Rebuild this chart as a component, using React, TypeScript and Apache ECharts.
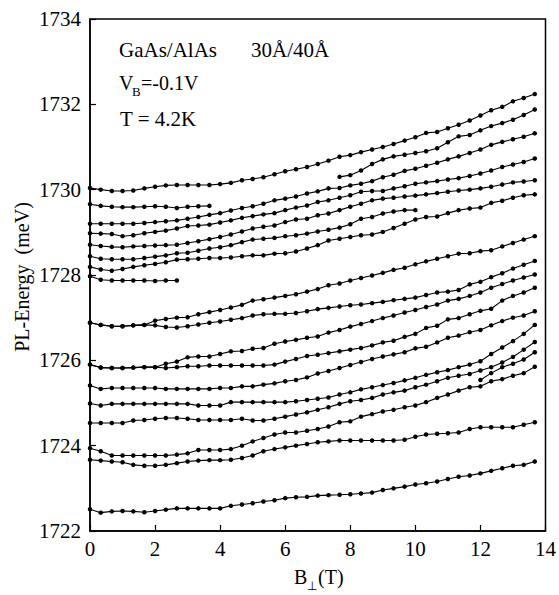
import React, { useEffect, useRef } from "react";
import * as echarts from "echarts";

// Magnetic field B⊥ (T), sample positions
const B = [0, 0.33, 0.67, 1, 1.33, 1.67, 2, 2.33, 2.67, 3, 3.33, 3.67, 4, 4.33, 4.67, 5, 5.33, 5.67, 6, 6.33, 6.67, 7, 7.33, 7.67, 8, 8.33, 8.67, 9, 9.33, 9.67, 10, 10.33, 10.67, 11, 11.33, 11.67, 12, 12.33, 12.67, 13, 13.33, 13.67];

// PL energies (meV); each line starts at index `start` of B
const line01 = [1730.04, 1730.00, 1729.97, 1729.97, 1729.98, 1730.03, 1730.07, 1730.10, 1730.11, 1730.11, 1730.11, 1730.11, 1730.13, 1730.16, 1730.22, 1730.25, 1730.29, 1730.36, 1730.43, 1730.48, 1730.53, 1730.60, 1730.68, 1730.77, 1730.81, 1730.88, 1730.94, 1731.00, 1731.07, 1731.15, 1731.23, 1731.33, 1731.35, 1731.44, 1731.52, 1731.62, 1731.74, 1731.86, 1731.94, 1732.07, 1732.15, 1732.24];
const line02 = [1729.66, 1729.62, 1729.60, 1729.59, 1729.59, 1729.60, 1729.61, 1729.60, 1729.57, 1729.60, 1729.61, 1729.62];
const line03 = [1730.30, 1730.34, 1730.45, 1730.60, 1730.71, 1730.78, 1730.82, 1730.86, 1730.90, 1730.97, 1731.11, 1731.25, 1731.28, 1731.39, 1731.49, 1731.56, 1731.64, 1731.75, 1731.88];
const line04 = [1729.20, 1729.20, 1729.20, 1729.20, 1729.20, 1729.22, 1729.24, 1729.26, 1729.28, 1729.32, 1729.36, 1729.41, 1729.45, 1729.51, 1729.57, 1729.61, 1729.67, 1729.75, 1729.79, 1729.84, 1729.91, 1729.96, 1730.03, 1730.04, 1730.10, 1730.14, 1730.20, 1730.29, 1730.35, 1730.44, 1730.49, 1730.56, 1730.63, 1730.71, 1730.78, 1730.86, 1730.94, 1731.05, 1731.12, 1731.18, 1731.24, 1731.32];
const line05 = [1728.98, 1728.97, 1728.96, 1728.91, 1728.93, 1728.98, 1729.01, 1729.04, 1729.09, 1729.15, 1729.16, 1729.18, 1729.23, 1729.28, 1729.34, 1729.38, 1729.42, 1729.45, 1729.52, 1729.58, 1729.63, 1729.71, 1729.75, 1729.81, 1729.87, 1729.95, 1729.97, 1729.97, 1730.03, 1730.08, 1730.14, 1730.17, 1730.20, 1730.24, 1730.27, 1730.32, 1730.38, 1730.45, 1730.53, 1730.59, 1730.65, 1730.73];
const line06 = [1728.71, 1728.68, 1728.66, 1728.65, 1728.67, 1728.68, 1728.69, 1728.70, 1728.71, 1728.75, 1728.79, 1728.84, 1728.89, 1728.95, 1729.02, 1729.09, 1729.13, 1729.16, 1729.24, 1729.30, 1729.32, 1729.40, 1729.44, 1729.52, 1729.60, 1729.67, 1729.75, 1729.79, 1729.81, 1729.84, 1729.86, 1729.89, 1729.92, 1729.95, 1729.98, 1730.00, 1730.03, 1730.07, 1730.12, 1730.17, 1730.19, 1730.22];
const line07 = [1728.44, 1728.38, 1728.37, 1728.37, 1728.37, 1728.40, 1728.43, 1728.46, 1728.51, 1728.52, 1728.57, 1728.62, 1728.65, 1728.70, 1728.77, 1728.83, 1728.85, 1728.87, 1728.91, 1728.93, 1728.97, 1729.02, 1729.06, 1729.11, 1729.19, 1729.32, 1729.36, 1729.44, 1729.49, 1729.52, 1729.52];
const line08 = [1728.19, 1728.13, 1728.10, 1728.14, 1728.19, 1728.23, 1728.26, 1728.30, 1728.36, 1728.37, 1728.38, 1728.40, 1728.40, 1728.41, 1728.44, 1728.46, 1728.46, 1728.50, 1728.51, 1728.55, 1728.62, 1728.70, 1728.81, 1728.85, 1728.89, 1728.93, 1728.95, 1729.01, 1729.10, 1729.20, 1729.30, 1729.36, 1729.37, 1729.45, 1729.52, 1729.56, 1729.58, 1729.69, 1729.74, 1729.81, 1729.87, 1729.89];
const line09 = [1727.97, 1727.89, 1727.87, 1727.87, 1727.87, 1727.87, 1727.86, 1727.87, 1727.87];
const line10 = [1726.88, 1726.83, 1726.80, 1726.80, 1726.82, 1726.83, 1726.93, 1726.97, 1727.00, 1727.01, 1727.08, 1727.13, 1727.18, 1727.24, 1727.30, 1727.40, 1727.43, 1727.47, 1727.51, 1727.55, 1727.61, 1727.67, 1727.76, 1727.80, 1727.87, 1727.93, 1727.99, 1728.05, 1728.12, 1728.17, 1728.25, 1728.32, 1728.38, 1728.44, 1728.50, 1728.51, 1728.56, 1728.58, 1728.67, 1728.75, 1728.83, 1728.91];
const line11 = [1726.88, 1726.83, 1726.80, 1726.80, 1726.82, 1726.83, 1726.82, 1726.78, 1726.77, 1726.80, 1726.84, 1726.88, 1726.91, 1726.95, 1726.99, 1727.05, 1727.08, 1727.09, 1727.09, 1727.11, 1727.15, 1727.20, 1727.23, 1727.26, 1727.29, 1727.31, 1727.34, 1727.37, 1727.41, 1727.44, 1727.47, 1727.53, 1727.59, 1727.61, 1727.65, 1727.78, 1727.84, 1727.95, 1728.04, 1728.15, 1728.24, 1728.33];
const line12 = [1725.90, 1725.83, 1725.82, 1725.82, 1725.83, 1725.84, 1725.84, 1725.92, 1725.97, 1726.07, 1726.09, 1726.09, 1726.15, 1726.21, 1726.22, 1726.27, 1726.29, 1726.39, 1726.44, 1726.48, 1726.53, 1726.56, 1726.65, 1726.71, 1726.79, 1726.85, 1726.92, 1726.99, 1727.05, 1727.12, 1727.18, 1727.25, 1727.31, 1727.40, 1727.44, 1727.51, 1727.59, 1727.70, 1727.79, 1727.87, 1727.94, 1728.01];
const line13 = [1725.90, 1725.83, 1725.82, 1725.82, 1725.83, 1725.84, 1725.84, 1725.82, 1725.84, 1725.86, 1725.86, 1725.88, 1725.88, 1725.88, 1725.88, 1725.88, 1725.88, 1725.90, 1725.97, 1726.03, 1726.10, 1726.13, 1726.17, 1726.21, 1726.25, 1726.29, 1726.35, 1726.42, 1726.46, 1726.55, 1726.62, 1726.76, 1726.81, 1726.96, 1726.99, 1727.08, 1727.16, 1727.21, 1727.40, 1727.51, 1727.59, 1727.70];
const line14 = [1725.41, 1725.33, 1725.35, 1725.35, 1725.35, 1725.35, 1725.35, 1725.33, 1725.33, 1725.33, 1725.33, 1725.33, 1725.35, 1725.35, 1725.39, 1725.39, 1725.43, 1725.46, 1725.51, 1725.54, 1725.60, 1725.69, 1725.75, 1725.82, 1725.89, 1725.96, 1726.03, 1726.09, 1726.14, 1726.19, 1726.28, 1726.32, 1726.42, 1726.53, 1726.58, 1726.66, 1726.71, 1726.82, 1726.92, 1727.00, 1727.05, 1727.15];
const line15 = [1724.99, 1724.94, 1724.98, 1724.98, 1724.98, 1724.98, 1724.98, 1724.98, 1724.98, 1724.98, 1724.94, 1724.94, 1724.94, 1725.02, 1725.02, 1725.02, 1725.02, 1725.02, 1725.02, 1725.04, 1725.07, 1725.10, 1725.13, 1725.20, 1725.25, 1725.32, 1725.37, 1725.42, 1725.47, 1725.53, 1725.59, 1725.66, 1725.72, 1725.77, 1725.84, 1725.90, 1725.98, 1726.15, 1726.30, 1726.45, 1726.62, 1726.83];
const line16 = [1724.53, 1724.53, 1724.53, 1724.53, 1724.59, 1724.60, 1724.63, 1724.65, 1724.65, 1724.63, 1724.60, 1724.60, 1724.60, 1724.60, 1724.63, 1724.59, 1724.59, 1724.63, 1724.68, 1724.73, 1724.78, 1724.84, 1724.90, 1724.98, 1725.04, 1725.07, 1725.12, 1725.20, 1725.25, 1725.29, 1725.37, 1725.43, 1725.51, 1725.59, 1725.64, 1725.68, 1725.76, 1725.84, 1725.95, 1726.08, 1726.25, 1726.43];
const line17 = [1725.54, 1725.70, 1725.84, 1725.92, 1726.02, 1726.19];
const line18 = [1723.94, 1723.87, 1723.77, 1723.77, 1723.77, 1723.77, 1723.77, 1723.77, 1723.79, 1723.82, 1723.90, 1723.90, 1723.90, 1723.92, 1724.00, 1724.10, 1724.18, 1724.26, 1724.31, 1724.31, 1724.35, 1724.39, 1724.45, 1724.55, 1724.57, 1724.68, 1724.74, 1724.80, 1724.84, 1724.90, 1724.94, 1725.02, 1725.12, 1725.20, 1725.29, 1725.37, 1725.39, 1725.51, 1725.56, 1725.64, 1725.70, 1725.85];
const line19 = [1723.67, 1723.65, 1723.63, 1723.61, 1723.55, 1723.53, 1723.53, 1723.55, 1723.59, 1723.63, 1723.65, 1723.66, 1723.66, 1723.67, 1723.71, 1723.77, 1723.87, 1723.92, 1723.96, 1724.00, 1724.04, 1724.08, 1724.10, 1724.12, 1724.12, 1724.12, 1724.12, 1724.12, 1724.12, 1724.14, 1724.21, 1724.26, 1724.28, 1724.29, 1724.31, 1724.39, 1724.43, 1724.43, 1724.43, 1724.43, 1724.49, 1724.55];
const line20 = [1722.51, 1722.43, 1722.46, 1722.47, 1722.46, 1722.44, 1722.47, 1722.50, 1722.53, 1722.53, 1722.53, 1722.53, 1722.53, 1722.59, 1722.62, 1722.65, 1722.69, 1722.72, 1722.77, 1722.79, 1722.80, 1722.83, 1722.84, 1722.85, 1722.86, 1722.88, 1722.90, 1722.96, 1723.00, 1723.04, 1723.09, 1723.12, 1723.16, 1723.22, 1723.27, 1723.30, 1723.35, 1723.41, 1723.47, 1723.53, 1723.55, 1723.63];

const LINES: { start: number; values: number[] }[] = [
  { start: 0, values: line01 }, { start: 0, values: line02 }, { start: 23, values: line03 },
  { start: 0, values: line04 }, { start: 0, values: line05 }, { start: 0, values: line06 },
  { start: 0, values: line07 }, { start: 0, values: line08 }, { start: 0, values: line09 },
  { start: 0, values: line10 }, { start: 0, values: line11 }, { start: 0, values: line12 },
  { start: 0, values: line13 }, { start: 0, values: line14 }, { start: 0, values: line15 },
  { start: 0, values: line16 }, { start: 36, values: line17 }, { start: 0, values: line18 },
  { start: 0, values: line19 }, { start: 0, values: line20 },
];

const X_TICKS = { min: 0, max: 14, interval: 2 };
const Y_TICKS = { min: 1722, max: 1734, interval: 2 };

const FONT = "'Liberation Serif', 'Times New Roman', serif";

export default function App() {
  const ref = useRef<HTMLDivElement>(null);
  useEffect(() => {
    if (!ref.current) return;
    const chart = echarts.init(ref.current, undefined, { renderer: "svg" });
    const series = LINES.map((l, k) => ({
      type: "line" as const,
      name: "line" + (k + 1),
      data: l.values.map((v, j) => [B[l.start + j], v]),
      symbol: "circle",
      symbolSize: 4.5,
      showSymbol: true,
      lineStyle: { color: "#000", width: 1.1 },
      itemStyle: { color: "#000" },
      silent: true,
      z: 3,
    }));
    const txt = (x: number, y: number, text: string, size = 20, extra: any = {}) => ({
      type: "text",
      x,
      y,
      style: { text, fontFamily: FONT, fontSize: size, fill: "#000", textVerticalAlign: "middle", ...extra },
      silent: true,
    });
    chart.setOption({
      animation: false,
      backgroundColor: "#fff",
      grid: { left: 90, right: 11, top: 19, bottom: 64, show: true, borderColor: "#000", borderWidth: 1.5, backgroundColor: "transparent" },
      xAxis: {
        type: "value",
        ...X_TICKS,
        axisLine: { show: true, lineStyle: { color: "#000", width: 1.5 } },
        axisTick: { show: true, inside: true, length: 6, lineStyle: { color: "#000", width: 1.2 } },
        axisLabel: { color: "#000", fontFamily: FONT, fontSize: 21, margin: 7, formatter: (v: number) => String(v) },
        splitLine: { show: false },
      },
      yAxis: {
        type: "value",
        ...Y_TICKS,
        axisLine: { show: true, lineStyle: { color: "#000", width: 1.5 } },
        axisTick: { show: true, inside: true, length: 6, lineStyle: { color: "#000", width: 1.2 } },
        axisLabel: { color: "#000", fontFamily: FONT, fontSize: 21, margin: 9, formatter: (v: number) => String(v) },
        splitLine: { show: false },
      },
      graphic: [
        txt(119, 50, "GaAs/AlAs", 21),
        txt(251, 50, "30Å/40Å", 21),
        txt(119, 83, "V"),
        txt(132, 91, "B", 13),
        txt(141, 83, "=-0.1V"),
        txt(120, 119, "T = 4.2K", 21),
        txt(294, 577, "B", 20),
        txt(307, 586, "⊥", 12),
        txt(318, 577, "(T)", 20),
        {
          type: "text",
          x: 22,
          y: 277,
          rotation: Math.PI / 2,
          style: { text: "PL-Energy  (meV)", fontFamily: FONT, fontSize: 20, fill: "#000", textAlign: "center", textVerticalAlign: "middle" },
          silent: true,
        },
      ],
      series,
    });
    return () => chart.dispose();
  }, []);
  return <div ref={ref} style={{ position: "fixed", left: 0, top: 0, width: 559, height: 595, background: "#fff" }} />;
}
